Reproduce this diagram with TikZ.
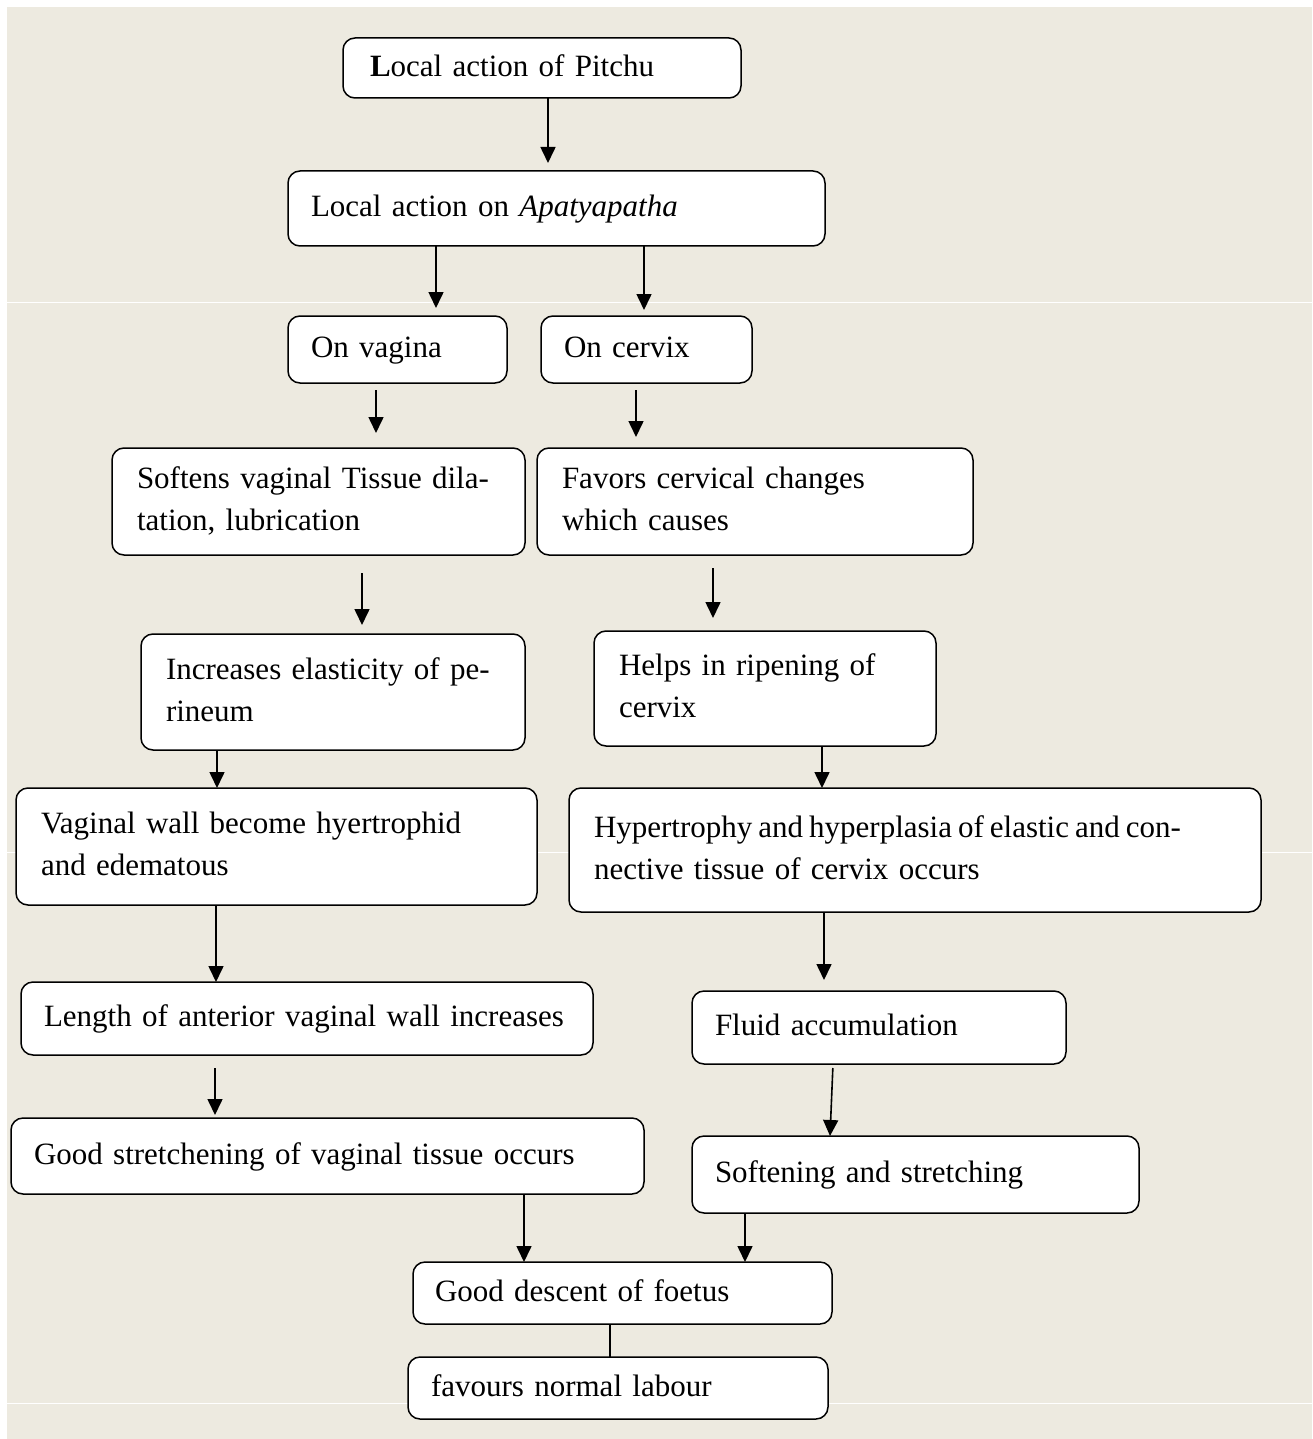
\documentclass[tikz,border=0pt]{standalone}
\usepackage{fontspec}
\setmainfont{Liberation Serif}
\usetikzlibrary{arrows.meta}
\definecolor{bgbeige}{HTML}{EDEAE0}
\tikzset{
  box/.style={draw=black, fill=white, line width=1.5pt, rounded corners=12pt,
    align=left, inner ysep=0pt, outer sep=0pt,
    font=\fontsize{31}{42}\selectfont},
  arr/.style={line width=1.6pt, -{Triangle[length=16pt,width=15pt]}},
  plainline/.style={line width=1.6pt},
}
\newcommand{\mybox}[7]{%
  \pgfmathsetmacro{\bw}{#4-#2}%
  \pgfmathsetmacro{\bh}{#5-#3}%
  \pgfmathsetmacro{\tw}{#4-#2-2*#6}%
  \node[box, minimum width=\bw pt, minimum height=\bh pt, text width=\tw pt,
        inner xsep=#6 pt, anchor=north west] (#1) at (#2,#3) {\strut #7\strut};}
\begin{document}
\begin{tikzpicture}[x=1pt,y=-1pt]
\useasboundingbox (0,0) rectangle (1312,1439);
\fill[bgbeige] (7,7) rectangle (1312,1439);
\foreach \yy in {302,852,1403}{\draw[white, line width=1pt] (7,\yy) -- (1312,\yy);}

\mybox{b1}{343}{38}{741}{98}{27}{\textbf{L}ocal action of Pitchu}
\mybox{b2}{288}{171}{825}{246}{23}{Local action on \textit{Apatyapatha}}
\mybox{b3}{288}{316}{507}{383}{23}{On vagina}
\mybox{b4}{541}{316}{752}{383}{23}{On cervix}
\mybox{b5}{112}{448}{525}{555}{25}{Softens vaginal Tissue dila-\\tation, lubrication}
\mybox{b6}{537}{448}{973}{555}{25}{Favors cervical changes\\which causes}
\mybox{b7}{141}{634}{525}{750}{25}{Increases elasticity of pe-\\rineum}
\mybox{b8}{594}{631}{936}{746}{25}{Helps in ripening of\\cervix}
\mybox{b9}{16}{788}{537}{905}{25}{Vaginal wall become hyertrophid\\and edematous}
\mybox{b10}{569}{788}{1261}{912}{25}{{\spaceskip=6pt Hypertrophy and hyperplasia of elastic and con-}\\nective tissue of cervix occurs}
\mybox{b11}{21}{982}{593}{1055}{23}{Length of anterior vaginal wall increases}
\mybox{b12}{692}{991}{1066}{1064}{23}{Fluid accumulation}
\mybox{b13}{11}{1118}{644}{1194}{23}{Good stretchening of vaginal tissue occurs}
\mybox{b14}{692}{1136}{1139}{1213}{23}{Softening and stretching}
\mybox{b15}{413}{1262}{832}{1324}{22}{Good descent of foetus}
\mybox{b16}{408}{1357}{828}{1419}{23}{favours normal labour}

\draw[arr, shorten >=8pt] (b1.south -| 548,0) -- (b2.north -| 548,0);
\draw[arr, shorten >=8pt] (b2.south -| 436,0) -- (b3.north -| 436,0);
\draw[arr, shorten >=6pt] (b2.south -| 644,0) -- (b4.north -| 644,0);
\draw[arr, shorten <=7pt, shorten >=15pt] (b3.south -| 376,0) -- (b5.north -| 376,0);
\draw[arr, shorten <=7pt, shorten >=11pt] (b4.south -| 636,0) -- (b6.north -| 636,0);
\draw[arr, shorten <=18pt, shorten >=9pt] (b5.south -| 362,0) -- (b7.north -| 362,0);
\draw[arr, shorten <=13pt, shorten >=13pt] (b6.south -| 713,0) -- (b8.north -| 713,0);
\draw[arr] (b7.south -| 217,0) -- (b9.north -| 217,0);
\draw[arr] (b8.south -| 822,0) -- (b10.north -| 822,0);
\draw[arr] (b9.south -| 216,0) -- (b11.north -| 216,0);
\draw[arr, shorten >=11pt] (b10.south -| 824,0) -- (b12.north -| 824,0);
\draw[arr, shorten <=13pt, shorten >=3pt] (b11.south -| 215,0) -- (b13.north -| 215,0);
\draw[arr, shorten <=4pt] (b12.south -| 833,0) -- (b14.north -| 830,0);
\draw[arr] (b13.south -| 524,0) -- (b15.north -| 524,0);
\draw[arr] (b14.south -| 745,0) -- (b15.north -| 745,0);
\draw[plainline] (b15.south -| 610,0) -- (b16.north -| 610,0);
\end{tikzpicture}
\end{document}
